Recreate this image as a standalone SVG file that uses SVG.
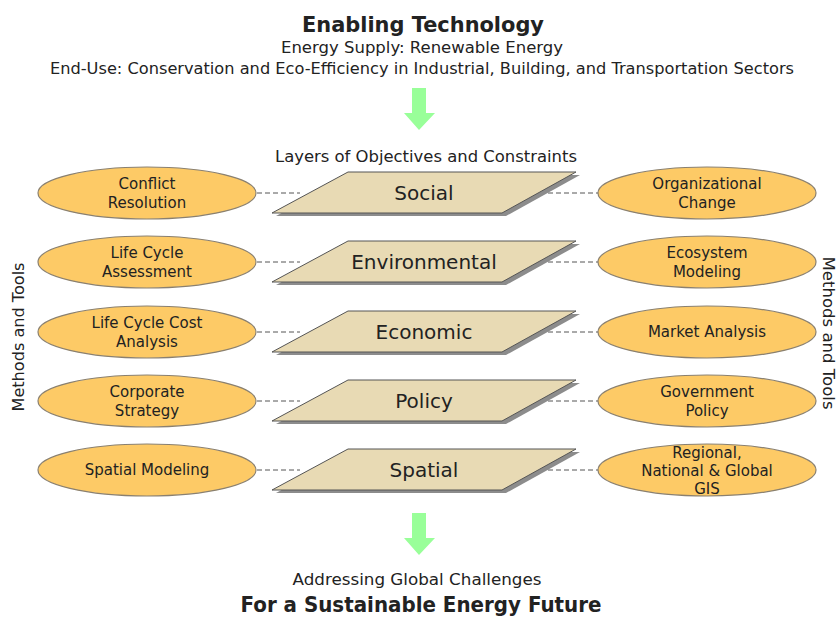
<svg xmlns="http://www.w3.org/2000/svg" width="838" height="618" viewBox="0 0 838 618">
<style>
text{font-family:"DejaVu Sans","Liberation Sans",sans-serif;fill:#222;text-anchor:middle}
.el{fill:#FDCA66;stroke:#8a8070;stroke-width:1.2}
.pg{fill:#E8DAB4;stroke:#555;stroke-width:1}
.sh{fill:#8c8c8c}
.lt{font-size:20px}
.et{font-size:15px}
.dl{stroke:#555;stroke-width:1;stroke-dasharray:5,3;fill:none}
.ar{fill:#99FF99}
</style>
<rect width="838" height="618" fill="#fff"/>
<text x="423" y="32" font-size="22" font-weight="bold" textLength="242" lengthAdjust="spacingAndGlyphs">Enabling Technology</text>
<text x="422" y="53" font-size="16" textLength="282" lengthAdjust="spacingAndGlyphs">Energy Supply: Renewable Energy</text>
<text x="422" y="74" font-size="16" textLength="744" lengthAdjust="spacingAndGlyphs">End-Use: Conservation and Eco-Efficiency in Industrial, Building, and Transportation Sectors</text>
<polygon class="ar" points="412,88 426,88 426,113 435,113 419,130 404,113 412,113"/>
<text x="426" y="162" font-size="16" textLength="302" lengthAdjust="spacingAndGlyphs">Layers of Objectives and Constraints</text>
<g id="connectors">
<line class="dl" x1="257" y1="193" x2="300" y2="193"/><line class="dl" x1="540" y1="193" x2="598" y2="193"/>
<line class="dl" x1="257" y1="262" x2="300" y2="262"/><line class="dl" x1="540" y1="262" x2="598" y2="262"/>
<line class="dl" x1="257" y1="332" x2="300" y2="332"/><line class="dl" x1="540" y1="332" x2="598" y2="332"/>
<line class="dl" x1="257" y1="401" x2="300" y2="401"/><line class="dl" x1="540" y1="401" x2="598" y2="401"/>
<line class="dl" x1="257" y1="470" x2="300" y2="470"/><line class="dl" x1="540" y1="470" x2="598" y2="470"/>
</g>
<g id="social"><polygon class="sh" points="352,175 580,175 506,216 276,216"/><polygon class="pg" points="348,172 576,172 502,213 272,213"/><text class="lt" x="424" y="200">Social</text></g>
<g id="environmental"><polygon class="sh" points="352,244 580,244 506,285 276,285"/><polygon class="pg" points="348,241 576,241 502,282 272,282"/><text class="lt" x="424" y="269">Environmental</text></g>
<g id="economic"><polygon class="sh" points="352,314 580,314 506,355 276,355"/><polygon class="pg" points="348,311 576,311 502,352 272,352"/><text class="lt" x="424" y="339">Economic</text></g>
<g id="policy"><polygon class="sh" points="352,383 580,383 506,424 276,424"/><polygon class="pg" points="348,380 576,380 502,421 272,421"/><text class="lt" x="424" y="408">Policy</text></g>
<g id="spatial"><polygon class="sh" points="352,452 580,452 506,493 276,493"/><polygon class="pg" points="348,449 576,449 502,490 272,490"/><text class="lt" x="424" y="477">Spatial</text></g>
<g id="conflict"><ellipse class="el" cx="147" cy="193" rx="109" ry="26"/><text class="et" x="147" y="189">Conflict</text><text class="et" x="147" y="208">Resolution</text></g>
<g id="lca"><ellipse class="el" cx="147" cy="262" rx="109" ry="26"/><text class="et" x="147" y="258">Life Cycle</text><text class="et" x="147" y="277">Assessment</text></g>
<g id="lcca"><ellipse class="el" cx="147" cy="332" rx="109" ry="26"/><text class="et" x="147" y="328">Life Cycle Cost</text><text class="et" x="147" y="347">Analysis</text></g>
<g id="corporate"><ellipse class="el" cx="147" cy="401" rx="109" ry="26"/><text class="et" x="147" y="397">Corporate</text><text class="et" x="147" y="416">Strategy</text></g>
<g id="spatialmod"><ellipse class="el" cx="147" cy="470" rx="109" ry="26"/><text class="et" x="147" y="475">Spatial Modeling</text></g>
<g id="org"><ellipse class="el" cx="707" cy="193" rx="109" ry="26"/><text class="et" x="707" y="189">Organizational</text><text class="et" x="707" y="208">Change</text></g>
<g id="eco"><ellipse class="el" cx="707" cy="262" rx="109" ry="26"/><text class="et" x="707" y="258">Ecosystem</text><text class="et" x="707" y="277">Modeling</text></g>
<g id="market"><ellipse class="el" cx="707" cy="332" rx="109" ry="26"/><text class="et" x="707" y="337">Market Analysis</text></g>
<g id="gov"><ellipse class="el" cx="707" cy="401" rx="109" ry="26"/><text class="et" x="707" y="397">Government</text><text class="et" x="707" y="416">Policy</text></g>
<g id="gis"><ellipse class="el" cx="707" cy="470" rx="109" ry="26"/><text class="et" x="707" y="458">Regional,</text><text class="et" x="707" y="476">National &amp; Global</text><text class="et" x="707" y="494">GIS</text></g>
<text x="0" y="0" font-size="16" transform="translate(24,337) rotate(-90)" textLength="149" lengthAdjust="spacingAndGlyphs">Methods and Tools</text>
<text x="0" y="0" font-size="16" transform="translate(823,333) rotate(90)" textLength="153" lengthAdjust="spacingAndGlyphs">Methods and Tools</text>
<polygon class="ar" points="412,513 426,513 426,538 435,538 419,555 404,538 412,538"/>
<text x="417" y="585" font-size="16" textLength="249" lengthAdjust="spacingAndGlyphs">Addressing Global Challenges</text>
<text x="421" y="612" font-size="21" font-weight="bold" textLength="361" lengthAdjust="spacingAndGlyphs">For a Sustainable Energy Future</text>
</svg>
